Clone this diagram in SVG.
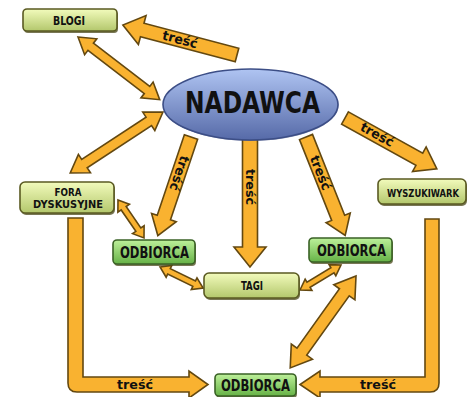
<svg xmlns="http://www.w3.org/2000/svg" width="468" height="397" viewBox="0 0 468 397">
<defs>
<linearGradient id="gLight" x1="0" y1="0" x2="0" y2="1"><stop offset="0" stop-color="#f2fbbc"/><stop offset="1" stop-color="#b3c76c"/></linearGradient>
<linearGradient id="gGreen" x1="0" y1="0" x2="0" y2="1"><stop offset="0" stop-color="#bdf09a"/><stop offset="1" stop-color="#66b246"/></linearGradient>
<linearGradient id="gBlue" x1="0" y1="0" x2="0" y2="1"><stop offset="0" stop-color="#afc4f2"/><stop offset="1" stop-color="#566aa8"/></linearGradient>
<style>
.arr{fill:#f9b230;stroke:#634810;stroke-width:1.6;stroke-linejoin:miter}
.light{fill:url(#gLight);stroke:#5a5a22;stroke-width:1.6}
.green{fill:url(#gGreen);stroke:#3a6226;stroke-width:1.6}
.shadow{fill:#4c4a1c;opacity:0.75}
.lbl{font-family:"DejaVu Sans Condensed","DejaVu Sans",sans-serif;font-weight:bold;fill:#111;text-anchor:middle}
.tr{font-family:"DejaVu Sans Condensed","DejaVu Sans",sans-serif;font-weight:bold;font-size:13px;fill:#111;text-anchor:middle}
</style>
</defs>
<g id="connectors">
<g transform="translate(237,55) rotate(194.74)"><polygon class="arr" points="0,-7 98,-7 98,-15 118,0 98,15 98,7 0,7"/></g>
<text class="tr" transform="translate(180,40) rotate(14.7)" y="4" textLength="36" lengthAdjust="spacingAndGlyphs">treść</text>
<g transform="translate(78,37) rotate(37.5)"><polygon class="arr" points="0,0 16,-10 16,-4.5 87,-4.5 87,-10 103,0 87,10 87,4.5 16,4.5 16,10"/></g>
<g transform="translate(163,112) rotate(146.7)"><polygon class="arr" points="0,0 17,-11 17,-5 94,-5 94,-11 111,0 94,11 94,5 17,5 17,11"/></g>
<g transform="translate(191,137) rotate(108.6)"><polygon class="arr" points="0,-7 85,-7 85,-13 104,0 85,13 85,7 0,7"/></g>
<text class="tr" transform="translate(179,173) rotate(108.6)" y="4" textLength="36" lengthAdjust="spacingAndGlyphs">treść</text>
<g transform="translate(250,139) rotate(90)"><polygon class="arr" points="0,-7.5 108,-7.5 108,-16 128,0 108,16 108,7.5 0,7.5"/></g>
<text class="tr" transform="translate(250,187) rotate(90)" y="4" textLength="36" lengthAdjust="spacingAndGlyphs">treść</text>
<g transform="translate(306,137) rotate(68.3)"><polygon class="arr" points="0,-7 87,-7 87,-13 106,0 87,13 87,7 0,7"/></g>
<text class="tr" transform="translate(320,173) rotate(68.3)" y="4" textLength="36" lengthAdjust="spacingAndGlyphs">treść</text>
<g transform="translate(345,118) rotate(29)"><polygon class="arr" points="0,-7 85,-7 85,-14 105,0 85,14 85,7 0,7"/></g>
<text class="tr" transform="translate(377,135) rotate(29)" y="4" textLength="36" lengthAdjust="spacingAndGlyphs">treść</text>
<g transform="translate(118,200) rotate(55.6)"><polygon class="arr" points="0,0 10,-7 10,-3 36,-3 36,-7 46,0 36,7 36,3 10,3 10,7"/></g>
<g transform="translate(160,267) rotate(26)"><polygon class="arr" points="0,0 10,-6.5 10,-3 38,-3 38,-6.5 48,0 38,6.5 38,3 10,3 10,6.5"/></g>
<g transform="translate(300,290) rotate(-31.4)"><polygon class="arr" points="0,0 10,-6.5 10,-3 38,-3 38,-6.5 48,0 38,6.5 38,3 10,3 10,6.5"/></g>
<g transform="translate(356,276) rotate(125.6)"><polygon class="arr" points="0,0 20,-13 20,-6 93,-6 93,-13 113,0 93,13 93,6 20,6 20,13"/></g>
<path class="arr" d="M68,218 H83 V377 H189 V371 L208,384.5 L189,398 V392 H77 Q68,392 68,383 Z"/>
<text class="tr" x="135" y="389" textLength="36" lengthAdjust="spacingAndGlyphs">treść</text>
<path class="arr" d="M425,219 H439 V383 Q439,392 430,392 H320 V398 L300,384.5 L320,371 V377 H425 Z"/>
<text class="tr" x="378" y="389" textLength="36" lengthAdjust="spacingAndGlyphs">treść</text>
</g>
<g id="nadawca">
<ellipse cx="251" cy="105.5" rx="87.5" ry="35.5" fill="#3a4a80" opacity="0.6"/>
<ellipse cx="250.5" cy="104.5" rx="87.5" ry="35.5" fill="url(#gBlue)" stroke="#3c4e86" stroke-width="1.6"/>
<text class="lbl" x="252.5" y="113" font-size="30" textLength="135" lengthAdjust="spacingAndGlyphs">NADAWCA</text>
</g>
<g id="blogi">
<rect class="shadow" x="24" y="11" width="94" height="22" rx="4"/>
<rect class="light" x="23" y="9" width="94" height="22" rx="4"/>
<text class="lbl" x="69" y="24.5" font-size="12" textLength="32" lengthAdjust="spacingAndGlyphs">BLOGI</text>
</g>
<g id="fora">
<rect class="shadow" x="21" y="184" width="94" height="31" rx="5"/>
<rect class="light" x="20" y="182" width="94" height="31" rx="5"/>
<text class="lbl" x="68" y="196" font-size="11" textLength="27" lengthAdjust="spacingAndGlyphs">FORA</text>
<text class="lbl" x="68" y="208" font-size="11" textLength="70" lengthAdjust="spacingAndGlyphs">DYSKUSYJNE</text>
</g>
<g id="odbiorca-lewy">
<rect class="shadow" x="114" y="242" width="82" height="24" rx="4"/>
<rect class="green" x="113" y="240" width="82" height="24" rx="4"/>
<text class="lbl" x="154.5" y="258" font-size="15" textLength="69" lengthAdjust="spacingAndGlyphs">ODBIORCA</text>
</g>
<g id="tagi">
<rect class="shadow" x="205" y="275" width="95" height="25" rx="5"/>
<rect class="light" x="204" y="273" width="95" height="25" rx="5"/>
<text class="lbl" x="252" y="290" font-size="12" textLength="22" lengthAdjust="spacingAndGlyphs">TAGI</text>
</g>
<g id="odbiorca-prawy">
<rect class="shadow" x="310" y="240" width="83" height="24" rx="4"/>
<rect class="green" x="309" y="238" width="83" height="24" rx="4"/>
<text class="lbl" x="351.5" y="256" font-size="15" textLength="69" lengthAdjust="spacingAndGlyphs">ODBIORCA</text>
</g>
<g id="wyszukiwarka">
<rect class="shadow" x="379" y="181" width="88" height="25" rx="5"/>
<rect class="light" x="378" y="179" width="88" height="25" rx="5"/>
<text class="lbl" x="423" y="196.5" font-size="10.5" textLength="72" lengthAdjust="spacingAndGlyphs">WYSZUKIWARK</text>
</g>
<g id="odbiorca-dol">
<rect class="shadow" x="216" y="376" width="81" height="22" rx="4"/>
<rect class="green" x="215" y="374" width="81" height="22" rx="4"/>
<text class="lbl" x="255.5" y="391" font-size="15" textLength="69" lengthAdjust="spacingAndGlyphs">ODBIORCA</text>
</g>
</svg>
